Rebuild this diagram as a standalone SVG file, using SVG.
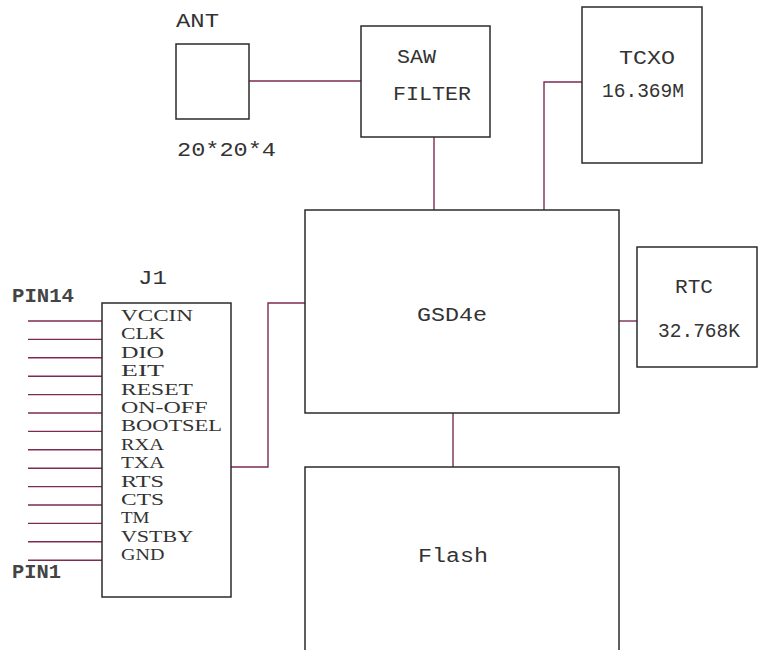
<svg xmlns="http://www.w3.org/2000/svg" width="760" height="650" viewBox="0 0 760 650">
<style>
.box{fill:#fff;stroke:#2b2b2b;stroke-width:1.5}
.w{fill:none;stroke:#7d2a56;stroke-width:1.4}
.m{font-family:"Courier New","Liberation Mono",monospace;font-size:20px;fill:#333}
.s{font-family:"Liberation Serif","Times New Roman",serif;font-size:17px;fill:#333}
</style>
<rect width="760" height="650" fill="#fff"/>
<g id="connectors">
<path class="w" d="M249 81H361"/>
<path class="w" d="M434 137V210"/>
<path class="w" d="M582 82H544V210"/>
<path class="w" d="M619 321H637"/>
<path class="w" d="M453 413V467"/>
<path class="w" d="M231 467H268V303H305"/>
<path class="w" d="M28 321H102M28 339.4H102M28 357.8H102M28 376.2H102M28 394.6H102M28 413H102M28 431.4H102M28 449.8H102M28 468.2H102M28 486.6H102M28 505H102M28 523.4H102M28 541.8H102M28 560.2H102"/>
</g>
<g id="ant">
<rect class="box" x="176" y="44" width="73" height="75"/>
<text class="m" x="176" y="27" textLength="43" lengthAdjust="spacingAndGlyphs">ANT</text>
<text class="m" x="177" y="156" textLength="99" lengthAdjust="spacingAndGlyphs">20*20*4</text>
</g>
<g id="saw">
<rect class="box" x="361" y="26" width="129" height="111"/>
<text class="m" x="397" y="63" textLength="39" lengthAdjust="spacingAndGlyphs">SAW</text>
<text class="m" x="393" y="100" textLength="78" lengthAdjust="spacingAndGlyphs">FILTER</text>
</g>
<g id="tcxo">
<rect class="box" x="582" y="7" width="120" height="156"/>
<text class="m" x="619" y="64" textLength="56" lengthAdjust="spacingAndGlyphs">TCXO</text>
<text class="m" x="602" y="97" textLength="82" lengthAdjust="spacingAndGlyphs">16.369M</text>
</g>
<g id="gsd">
<rect class="box" x="305" y="210" width="314" height="203"/>
<text class="m" x="417" y="321" textLength="70" lengthAdjust="spacingAndGlyphs">GSD4e</text>
</g>
<g id="rtc">
<rect class="box" x="637" y="247" width="120" height="120"/>
<text class="m" x="675" y="293" textLength="38" lengthAdjust="spacingAndGlyphs">RTC</text>
<text class="m" x="658" y="337" textLength="82" lengthAdjust="spacingAndGlyphs">32.768K</text>
</g>
<g id="flash">
<rect class="box" x="305" y="467" width="314" height="200"/>
<text class="m" x="418" y="562" textLength="70" lengthAdjust="spacingAndGlyphs">Flash</text>
</g>
<g id="j1">
<rect class="box" x="102" y="303" width="129" height="294"/>
<text class="m" x="138" y="284" textLength="29" lengthAdjust="spacingAndGlyphs">J1</text>
<text class="m" x="12" y="302" textLength="62" lengthAdjust="spacingAndGlyphs" style="font-weight:bold;fill:#444">PIN14</text>
<text class="m" x="12" y="578" textLength="49" lengthAdjust="spacingAndGlyphs" style="font-weight:bold;fill:#444">PIN1</text>
<text class="s" x="121" y="321" textLength="72" lengthAdjust="spacingAndGlyphs">VCCIN</text>
<text class="s" x="121" y="339.4" textLength="43.5" lengthAdjust="spacingAndGlyphs">CLK</text>
<text class="s" x="121" y="357.8" textLength="43" lengthAdjust="spacingAndGlyphs">DIO</text>
<text class="s" x="121" y="376.2" textLength="43" lengthAdjust="spacingAndGlyphs">EIT</text>
<text class="s" x="121" y="394.6" textLength="72" lengthAdjust="spacingAndGlyphs">RESET</text>
<text class="s" x="121" y="413" textLength="86.5" lengthAdjust="spacingAndGlyphs">ON-OFF</text>
<text class="s" x="121" y="431.4" textLength="101" lengthAdjust="spacingAndGlyphs">BOOTSEL</text>
<text class="s" x="121" y="449.8" textLength="43" lengthAdjust="spacingAndGlyphs">RXA</text>
<text class="s" x="121" y="468.2" textLength="43.5" lengthAdjust="spacingAndGlyphs">TXA</text>
<text class="s" x="121" y="486.6" textLength="43" lengthAdjust="spacingAndGlyphs">RTS</text>
<text class="s" x="121" y="505" textLength="43" lengthAdjust="spacingAndGlyphs">CTS</text>
<text class="s" x="121" y="523.4" textLength="28.5" lengthAdjust="spacingAndGlyphs">TM</text>
<text class="s" x="121" y="541.8" textLength="72" lengthAdjust="spacingAndGlyphs">VSTBY</text>
<text class="s" x="121" y="560.2" textLength="43.5" lengthAdjust="spacingAndGlyphs">GND</text>
</g>
</svg>
